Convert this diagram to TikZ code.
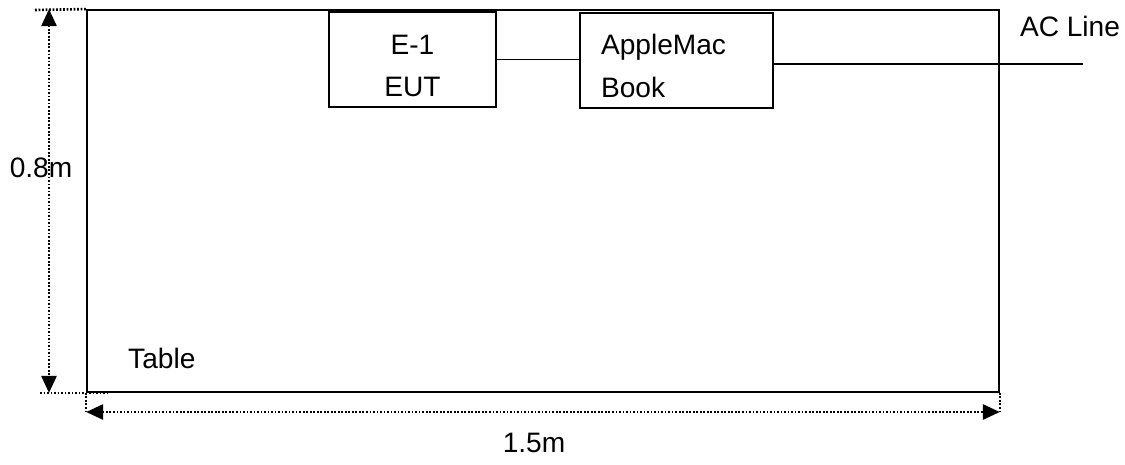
\documentclass[tikz,border=0pt]{standalone}
\usepackage{fontspec}
\setmainfont{Liberation Sans}
\usetikzlibrary{arrows.meta}
\tikzset{
  unitbox/.style={draw, line width=0.85pt, inner sep=0pt, minimum height=1.9cm},
  dimline/.style={line width=1.5pt, dash pattern=on 1pt off 1pt},
  dimtips/.style={{Triangle[length=0.34cm,width=0.3cm]}-{Triangle[length=0.34cm,width=0.3cm]}},
}

\begin{document}
\begin{tikzpicture}[x=0.02cm, y=-0.02cm, font=\fontsize{16}{24}\selectfont]
\useasboundingbox (0,0) rectangle (1125,464);

\node [draw, line width=1.1pt, inner sep=0pt, minimum width=18.24cm, minimum height=7.64cm] (table) at (543,201) {};
\node [anchor=west] (tablelabel) at (122,358) {Table};

\node [unitbox, minimum width=3.34cm] (eut) at (412.5,59.5) {};
\node [align=center] (eutlabel) at (412.5,66) {E-1\\EUT};
\node [unitbox, minimum width=3.86cm] (mac) at (676.5,60.5) {};
\node [text width=3.02cm, align=left] (maclabel) at (676.5,66) {AppleMac\\Book};
\draw [line width=0.7pt] (eut.east) -- (mac.west |- eut.east);

\coordinate (acend) at (1083,64);
\draw [line width=0.7pt] (mac.east |- acend) -- (acend);
\node (aclabel) at (1070,26) {AC Line};

\coordinate (hgt) at (49,0);
\draw [dimline] (35,10) -- (table.north west);
\draw [dimline] (40,393) -- (108,393);
\draw [dimline, dimtips] (table.north west -| hgt) -- (table.south west -| hgt);
\node (hgtlabel) at (41,168) {0.8m};

\coordinate (wid) at (0,412);
\draw [dimline] (table.south west) -- (table.south west |- wid);
\draw [dimline] (table.south east) -- (table.south east |- wid);
\draw [dimline, dimtips] (table.south west |- wid) -- (table.south east |- wid);
\node (widlabel) at (534,443) {1.5m};
\end{tikzpicture}
\end{document}
